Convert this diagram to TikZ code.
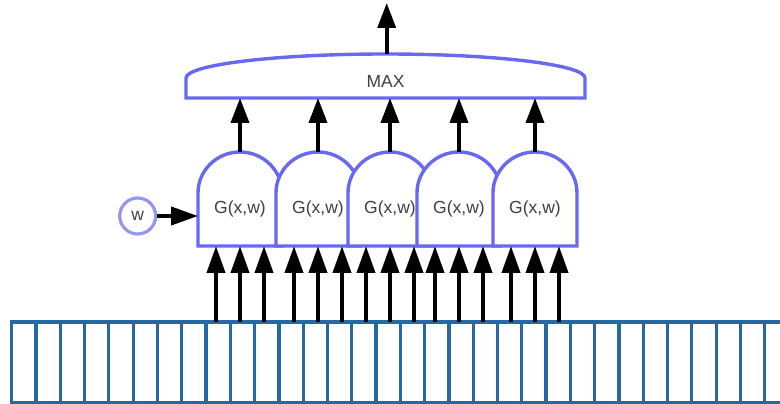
\documentclass[tikz,border=0pt]{standalone}
\usepackage{fontspec}
\setmainfont{Liberation Sans}
\usetikzlibrary{arrows.meta}
\definecolor{gateblue}{RGB}{104,104,240}
\definecolor{wring}{RGB}{150,150,240}
\definecolor{stripblue}{RGB}{38,104,164}
\definecolor{labelgray}{RGB}{64,64,64}
\begin{document}
\begin{tikzpicture}[x=1pt,y=1pt,
  gate/.style={draw=gateblue,line width=3.4pt,fill=white},
  cell/.style={draw=stripblue,line width=3.2pt},
  feed/.style={-{Triangle[length=27pt,width=18pt]},line width=4pt},
  pool/.style={-{Triangle[length=25pt,width=18pt]},line width=3.6pt},
  lbl/.style={text=labelgray,font=\fontsize{17.5}{19}\selectfont},
]
\useasboundingbox (0,0) rectangle (780,404);
\clip (0,0) rectangle (780,404);

% input sequence strip
\draw[cell] (11.5,1.5) rectangle (800,82);
\foreach \k in {0,...,30}
  \draw[cell] ({36+24.29*\k},1.5) -- ({36+24.29*\k},82);

% overlapping filter gates, drawn left to right
\foreach \L/\n in {198/1,276/2,348/3,417/4,493/5}{
  \draw[gate] (\L,158) -- (\L,211)
    arc[start angle=180,end angle=0,x radius=42,y radius=41]
    -- (\L+84,158) -- cycle;
  \node[lbl] (g\n) at (\L+42,195) {G(x,w)};
  \coordinate (g\n top) at (\L+42,252);
  \foreach \j/\dx in {a/18,b/42,c/66}{
    \coordinate (s\n\j) at (\L+\dx,82);
    \coordinate (b\n\j) at (\L+\dx,158);
  }
}
\coordinate (g1 left) at (198,188);

% inputs feeding each gate
\foreach \n in {1,...,5}
  \foreach \j in {a,b,c}
    \draw[feed] (s\n\j) -- (b\n\j);

% max pooling block
\draw[gate] (186,306) -- (186,326)
  arc[start angle=180,end angle=0,x radius=199.5,y radius=24]
  -- (585,306) -- cycle;
\node[lbl] (max) at (385.5,323) {MAX};
\coordinate (mb) at (385.5,306);
\coordinate (maxtop) at (386.7,350);
\coordinate (result) at (386.7,401);

\foreach \n in {1,...,5}
  \draw[pool] (g\n top) -- (g\n top |- mb);
\draw[pool] (maxtop) -- (result);

% shared weights
\node[circle,draw=wring,line width=3.2pt,minimum size=36pt,inner sep=0pt,lbl] (w) at (137.7,188) {w};
\draw[feed] (w) -- (g1 left);
\end{tikzpicture}
\end{document}
